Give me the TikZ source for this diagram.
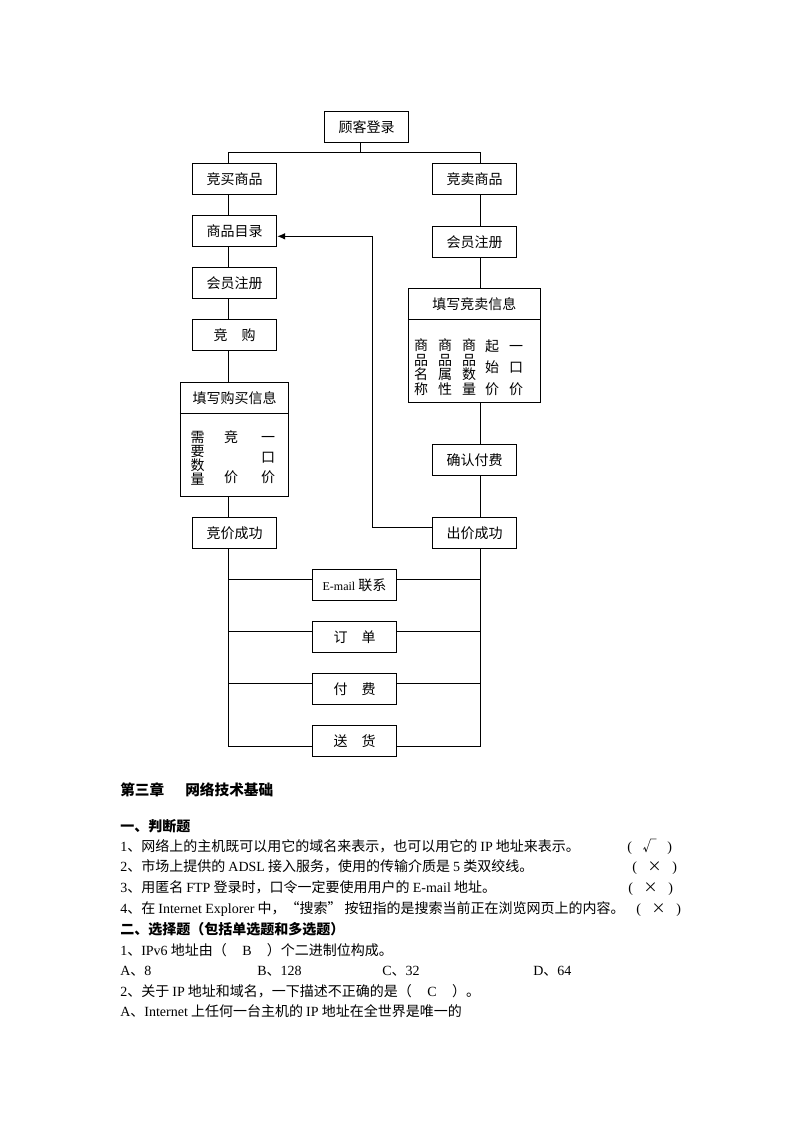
\documentclass[tikz,border=0pt]{standalone}
\usepackage{fontspec}
\setmainfont{Liberation Serif}
\newfontfamily\zh{Noto Sans CJK SC}
\usetikzlibrary{arrows.meta,calc}
\newcommand\rl[1]{{\rmfamily #1}}
\newcommand\ans[1]{\rl{(}\makebox[26.5pt]{#1}\rl{)}}
\tikzset{
  ln/.style={line width=0.75pt},
  box/.style={draw, line width=0.75pt, minimum width=63.3pt, minimum height=23.5pt, inner sep=0pt, font=\zh\fontsize{10.5}{12}\selectfont},
  bigbox/.style={draw, line width=0.75pt, inner sep=0pt},
  plain/.style={inner sep=0pt, font=\zh\fontsize{10.5}{12}\selectfont},
  colA/.style={inner sep=0pt, align=center, font=\zh\fontsize{10.5}{10.9}\selectfont},
  colB/.style={inner sep=0pt, align=center, font=\zh\fontsize{10.5}{16}\selectfont},
  colC/.style={inner sep=0pt, align=center, font=\zh\fontsize{10.5}{10.5}\selectfont},
  colD/.style={inner sep=0pt, align=center, font=\zh\fontsize{10.5}{15}\selectfont},
  txt/.style={anchor=base west, inner sep=0pt, font=\zh\fontsize{10.5}{12}\selectfont},
  hd/.style={anchor=base west, inner sep=0pt, font=\zh\bfseries\fontsize{10.5}{12}\selectfont},
  ttl/.style={anchor=base west, inner sep=0pt, font=\zh\bfseries\fontsize{11}{13}\selectfont},
  arr/.style={ln, -{Latex[length=6pt,width=5pt]}}
}
\begin{document}
\begin{tikzpicture}[x=0.75pt,y=-0.75pt]
\useasboundingbox (0,0) rectangle (794,1123);
% guide coordinates
\coordinate (L) at (228.7,0);
\coordinate (R) at (480.7,0);
\coordinate (T) at (360.3,0);
\coordinate (F) at (372.3,0);
\coordinate (bar) at (0,152.3);
\coordinate (bd) at (0,413.3);
\coordinate (sd) at (0,319.3);
\coordinate (fb) at (0,527);
\coordinate (ar) at (0,236.3);
\coordinate (e1) at (0,579.3);
\coordinate (o1) at (0,631.3);
\coordinate (f1) at (0,683.3);
\coordinate (bot) at (0,746.3);
% boxes
\node[box] (login) at (366.5,126.8) {顾客登录};
\node[box] (buy) at (234.5,179.3) {竞买商品};
\node[box] (sell) at (474.5,179.3) {竞卖商品};
\node[box] (catalog) at (234.5,230.8) {商品目录};
\node[box] (reg2) at (474.5,241.8) {会员注册};
\node[box] (reg1) at (234.5,283.2) {会员注册};
\node[box] (bid) at (234.5,334.8) {竞\hspace{1em}购};
\node[bigbox, minimum width=81.3pt, minimum height=85.2pt] (buyinfo) at (234.5,439.5) {};
\node[bigbox, minimum width=99pt, minimum height=85.5pt] (sellinfo) at (474.3,345.3) {};
\node[box] (pay) at (474.5,459.7) {确认付费};
\node[box] (bidok) at (234.5,532.8) {竞价成功};
\node[box] (offerok) at (474.5,532.8) {出价成功};
\node[box] (email) at (354.5,584.8) {{\rmfamily\fontsize{9}{10}\selectfont E-mail} 联系};
\node[box] (order) at (354.5,636.8) {订\hspace{1em}单};
\node[box] (fee) at (354.5,688.8) {付\hspace{1em}费};
\node[box] (ship) at (354.5,740.8) {送\hspace{1em}货};
% info box contents
\draw[ln] (buyinfo.west |- bd) -- (buyinfo.east |- bd);
\draw[ln] (sellinfo.west |- sd) -- (sellinfo.east |- sd);
\node[plain] (buytitle) at (234.5,398) {填写购买信息};
\node[plain] (selltitle) at (474.3,303.8) {填写竞卖信息};
\node[colA] (s1) at (421,367) {商\\品\\名\\称};
\node[colA] (s2) at (445,367) {商\\品\\属\\性};
\node[colA] (s3) at (469,367) {商\\品\\数\\量};
\node[colB] (s4) at (492,367.5) {\vphantom{商}起\\始\\价};
\node[colB] (s5) at (516,367.5) {\vphantom{商}一\\口\\价};
\node[colC] (b1) at (197.5,458) {需\\要\\数\\量};
\node[colD] (b2) at (231,457.5) {\vphantom{商}竞\\\mbox{}\\价};
\node[colD] (b3) at (268,457.5) {\vphantom{商}一\\口\\价};
% connectors
\draw[ln] (login.south -| T) -- (T |- bar);
\draw[ln] (buy.north -| L) -- (L |- bar) -- (R |- bar) -- (sell.north -| R);
\draw[ln] (buy.south -| L) -- (catalog.north -| L);
\draw[ln] (catalog.south -| L) -- (reg1.north -| L);
\draw[ln] (reg1.south -| L) -- (bid.north -| L);
\draw[ln] (bid.south -| L) -- (buyinfo.north -| L);
\draw[ln] (buyinfo.south -| L) -- (bidok.north -| L);
\draw[ln] (sell.south -| R) -- (reg2.north -| R);
\draw[ln] (reg2.south -| R) -- (sellinfo.north -| R);
\draw[ln] (sellinfo.south -| R) -- (pay.north -| R);
\draw[ln] (pay.south -| R) -- (offerok.north -| R);
\draw[arr] (offerok.west |- fb) -- (F |- fb) -- (F |- ar) -- (catalog.east |- ar);
\draw[ln] (bidok.south -| L) -- (L |- bot) -- (ship.west |- bot);
\draw[ln] (offerok.south -| R) -- (R |- bot) -- (ship.east |- bot);
\draw[ln] (L |- e1) -- (email.west |- e1);
\draw[ln] (email.east |- e1) -- (R |- e1);
\draw[ln] (L |- o1) -- (order.west |- o1);
\draw[ln] (order.east |- o1) -- (R |- o1);
\draw[ln] (L |- f1) -- (fee.west |- f1);
\draw[ln] (fee.east |- f1) -- (R |- f1);
% text
\node[ttl] (t0a) at (120,795.3) {第三章};
\node[ttl] (t0b) at (185,795.3) {网络技术基础};
\node[hd] (t1) at (120,831) {一、判断题};
\node[txt] (q1) at (120,851) {\rl{1}、网络上的主机既可以用它的域名来表示，也可以用它的 \rl{IP} 地址来表示。};
\node[txt] (a1) at (627,851) {\ans{√}};
\node[txt] (q2) at (120,871.3) {\rl{2}、市场上提供的 \rl{ADSL} 接入服务，使用的传输介质是 \rl{5} 类双绞线。};
\node[txt] (a2) at (632,871.3) {\ans{×}};
\node[txt] (q3) at (120,892.3) {\rl{3}、用匿名 \rl{FTP} 登录时，口令一定要使用用户的 \rl{E-mail} 地址。};
\node[txt] (a3) at (628,892.3) {\ans{×}};
\node[txt] (q4) at (120,913.3) {\rl{4}、在 \rl{Internet Explorer} 中，“搜索” 按钮指的是搜索当前正在浏览网页上的内容。};
\node[txt] (a4) at (636,913.3) {\ans{×}};
\node[hd] (t2) at (120,934.3) {二、选择题（包括单选题和多选题）};
\node[txt] (c1) at (120,955.3) {\rl{1}、\rl{IPv6} 地址由（\hspace{1.1em}\rl{B}\hspace{1.1em}）个二进制位构成。};
\node[txt] (c1a) at (120,975.3) {\rl{A}、\rl{8}};
\node[txt] (c1b) at (257,975.3) {\rl{B}、\rl{128}};
\node[txt] (c1c) at (382,975.3) {\rl{C}、\rl{32}};
\node[txt] (c1d) at (533,975.3) {\rl{D}、\rl{64}};
\node[txt] (c2) at (120,996) {\rl{2}、关于 \rl{IP} 地址和域名，一下描述不正确的是（\hspace{1.1em}\rl{C}\hspace{1.1em}）。};
\node[txt] (c2a) at (120,1016.3) {\rl{A}、\rl{Internet} 上任何一台主机的 \rl{IP} 地址在全世界是唯一的};
\end{tikzpicture}
\end{document}
